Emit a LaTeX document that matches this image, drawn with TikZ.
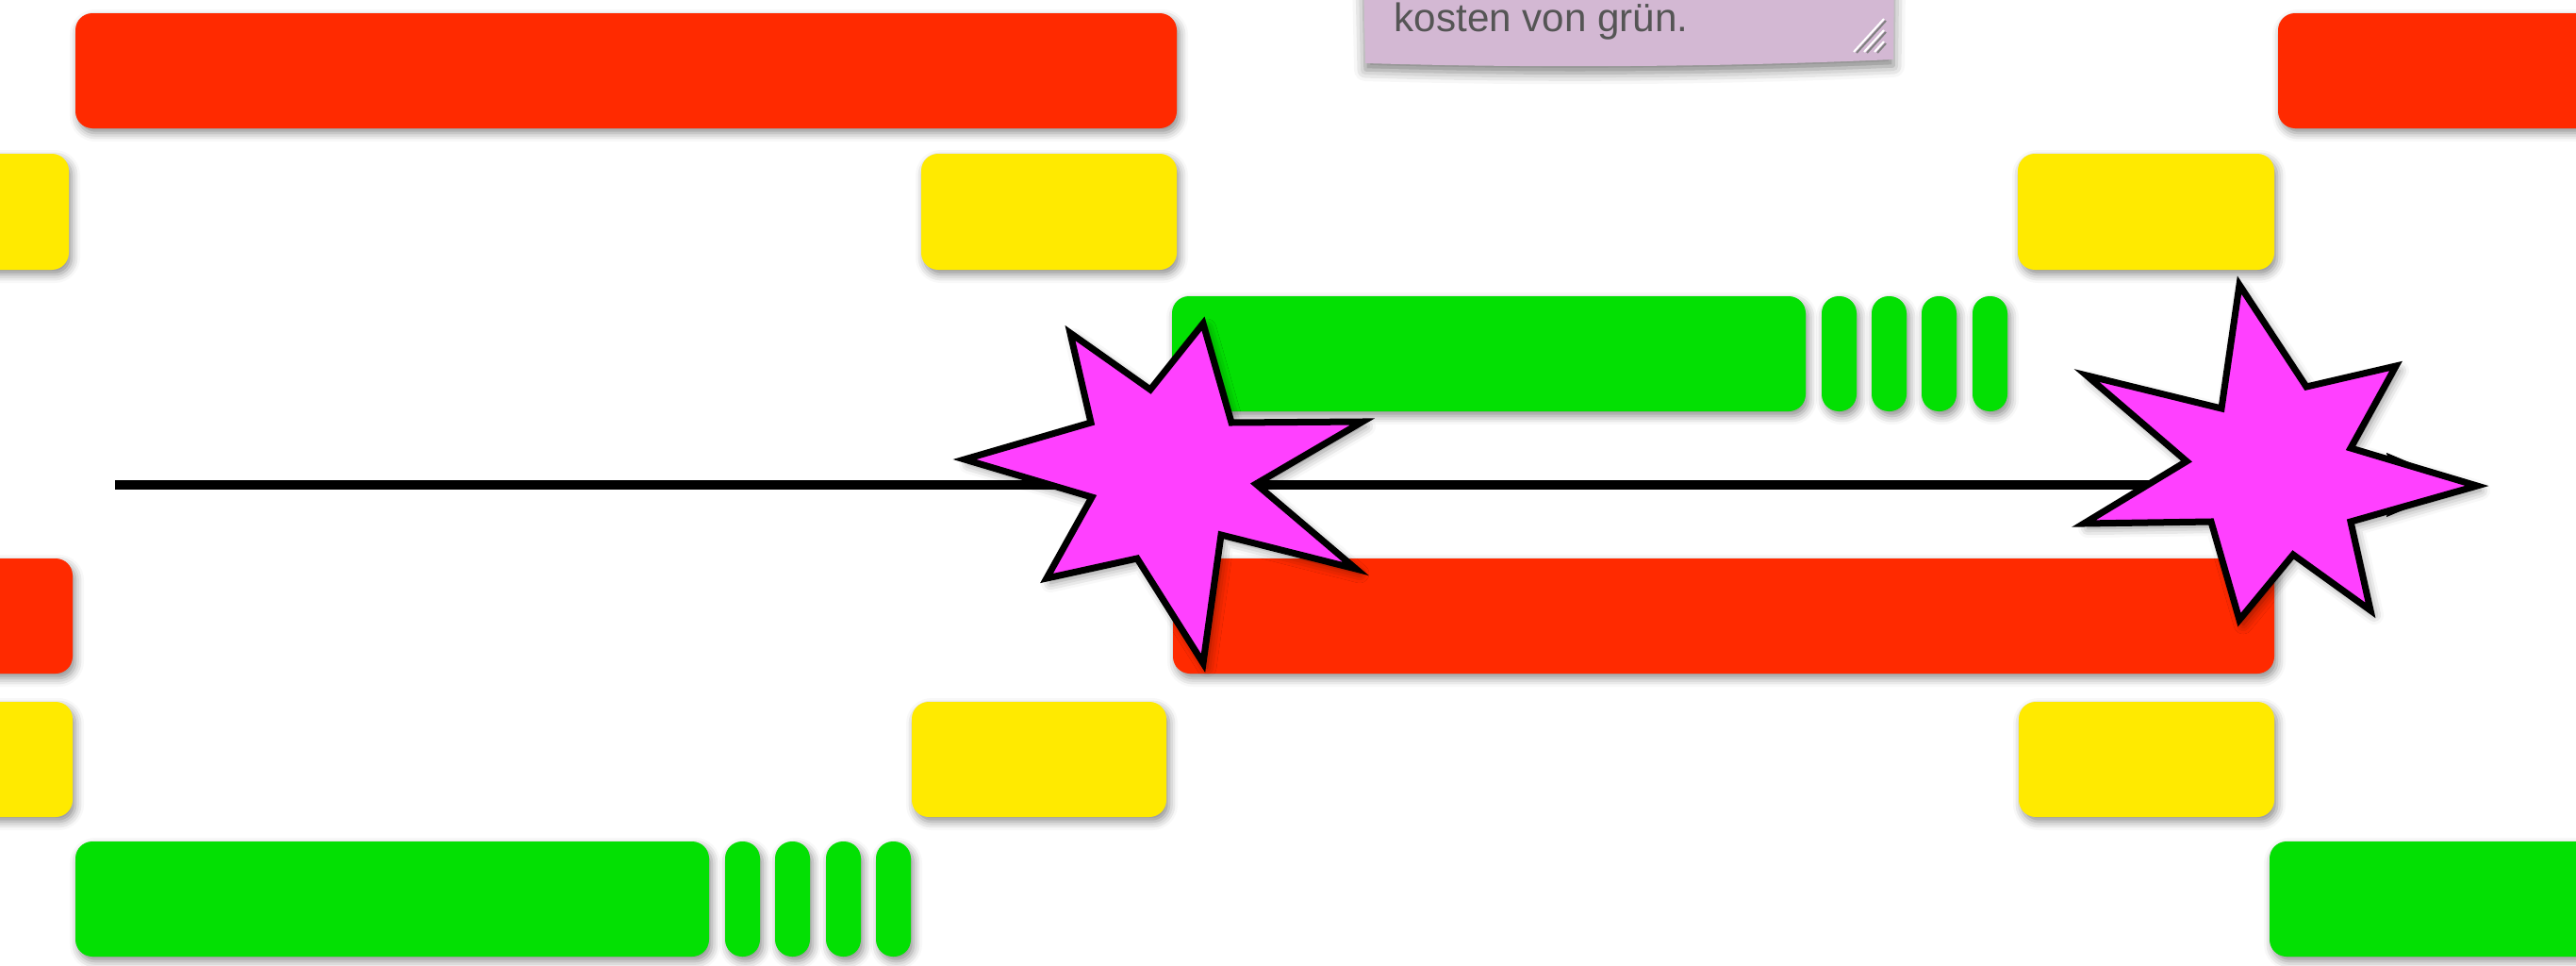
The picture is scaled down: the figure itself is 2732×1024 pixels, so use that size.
\documentclass[tikz,border=0pt]{standalone}
\usepackage{fontspec}
\setmainfont{Liberation Sans}
\usetikzlibrary{arrows.meta,shadows.blur}
\definecolor{barred}{HTML}{FF2A00}
\definecolor{baryellow}{HTML}{FFEA00}
\definecolor{bargreen}{HTML}{03E003}
\definecolor{burstpink}{HTML}{FF40FF}
\definecolor{notelilac}{HTML}{D3B8D3}
\definecolor{notegray}{HTML}{555555}
\tikzstyle{bar} = [rounded corners=0.18cm, blur shadow={shadow xshift=0.03cm, shadow yshift=-0.05cm, shadow blur radius=0.09cm, shadow opacity=45}]
\tikzstyle{redbar} = [bar, fill=barred]
\tikzstyle{yellowbar} = [bar, fill=baryellow]
\tikzstyle{greenbar} = [bar, fill=bargreen]
\tikzstyle{pill} = [greenbar, rounded corners=0.18cm]
\tikzstyle{burst} = [draw=black, line width=0.07cm, fill=burstpink, blur shadow={shadow xshift=0.04cm, shadow yshift=-0.05cm, shadow blur radius=0.1cm, shadow opacity=45}]
\tikzstyle{timeline} = [line width=0.1cm, -{Stealth[length=0.8cm, width=0.66cm, inset=0.08cm]}]
\tikzstyle{memo} = [fill=notelilac, blur shadow={shadow xshift=0cm, shadow yshift=-0.07cm, shadow blur radius=0.12cm, shadow opacity=50}]
\tikzstyle{memotext} = [text=notegray, font=\fontsize{12}{14}\selectfont, inner sep=0pt]

\begin{document}
\begin{tikzpicture}[x=0.01cm, y=-0.01cm]
\useasboundingbox (0,0) rectangle (2732,1024);
\clip (0,0) rectangle (2732,1024);

% row 1
\path[redbar] (80,14) rectangle (1248,136);
\path[redbar] (2416,14) rectangle (2800,136);
% row 2
\path[yellowbar] (-50,163) rectangle (73,286);
\path[yellowbar] (977,163) rectangle (1248,286);
\path[yellowbar] (2140,163) rectangle (2412,286);
% row 3
\path[greenbar] (1243,314) rectangle (1915,436);
\foreach \x in {1932,1985,2038,2092}
  \path[pill] (\x,314) rectangle +(37,122);
% row 4
\path[redbar] (-50,592) rectangle (77,714);
\path[redbar] (1244,592) rectangle (2412,714);
% row 5
\path[yellowbar] (-50,744) rectangle (77,866);
\path[yellowbar] (967,744) rectangle (1237,866);
\path[yellowbar] (2141,744) rectangle (2412,866);
% row 6
\path[greenbar] (80,892) rectangle (752,1014);
\foreach \x in {769,822,876,929}
  \path[pill] (\x,892) rectangle +(37,122);
\path[greenbar] (2407,892) rectangle (2800,1014);

% sticky note
\path[memo] (1446,-30) -- (2009,-30) -- (2008,63) .. controls (1850,70) and (1650,73) .. (1448,67) -- cycle;
\node (memotxt) [memotext, anchor=base west] at (1478,33) {kosten von grün.};
\draw[white, line width=0.02cm] (1966,55) -- (1998,20) (1977,55) -- (1998,32) (1988,55) -- (1998,44);
\draw[gray, line width=0.02cm] (1969,56) -- (2000,22) (1980,56) -- (2000,34) (1991,56) -- (2000,46);

% time axis
\coordinate (t0) at (122,514);
\coordinate (t1) at (2612,514);
\draw[timeline] (t0) -- (t1);

% bursts
\draw[burst] (1276,343) -- (1306,448) -- (1445,447) -- (1332,513) -- (1438,603) -- (1295,567) -- (1276,703) -- (1206,592) -- (1110,613) -- (1158,527) -- (1023,487) -- (1157,448) -- (1135,353) -- (1220,413) -- cycle;
\draw[burst] (2375,302) -- (2446,410) -- (2541,388) -- (2493,475) -- (2627,515) -- (2493,553) -- (2514,647) -- (2432,588) -- (2375,657) -- (2345,553) -- (2210,555) -- (2319,489) -- (2213,398) -- (2356,433) -- cycle;

\end{tikzpicture}
\end{document}
